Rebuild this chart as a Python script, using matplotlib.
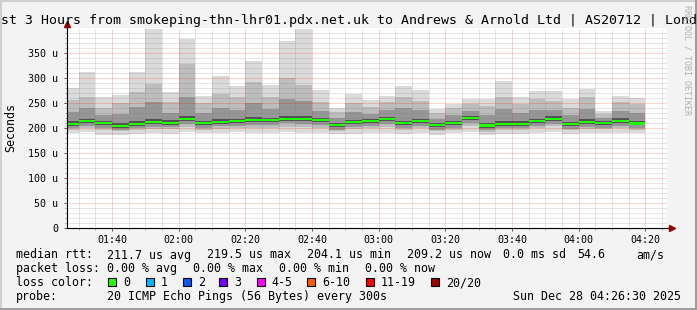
import numpy as np
import matplotlib
matplotlib.use("Agg")
import matplotlib.pyplot as plt
from matplotlib.patches import Rectangle
from matplotlib.lines import Line2D

# --- Data: one smoke column per 5 minute step (values in microseconds) ---
col_times = ["01:25", "01:30", "01:35", "01:40", "01:45", "01:50", "01:55",
             "02:00", "02:05", "02:10", "02:15", "02:20", "02:25", "02:30",
             "02:35", "02:40", "02:45", "02:50", "02:55", "03:00", "03:05",
             "03:10", "03:15", "03:20", "03:25", "03:30", "03:35", "03:40",
             "03:45", "03:50", "03:55", "04:00", "04:05", "04:10", "04:15"]
median = [208.5, 213.5, 209.5, 204.1, 208.5, 211.5, 210.5, 217.5, 209.5, 212.5,
          213.5, 215.5, 215.5, 218.5, 218.5, 215.5, 205.5, 211.5, 213.5, 217.5,
          209.5, 213.5, 205.5, 209.5, 219.5, 205.0, 208.5, 208.5, 213.5, 217.5,
          207.5, 211.5, 209.5, 213.5, 209.2]
ping_min = [190, 192, 186, 187, 188, 190, 189, 192, 190, 190, 192, 190, 191, 192,
            191, 190, 188, 189, 190, 191, 189, 190, 187, 190, 192, 186, 189, 189,
            191, 193, 189, 190, 190, 191, 190]
ping_p10 = [197, 200, 196, 194, 197, 199, 198, 203, 197, 199, 200, 201, 201, 203,
            203, 200, 195, 198, 200, 203, 197, 200, 194, 197, 204, 193, 197, 196,
            200, 205, 196, 199, 198, 200, 197]
ping_p25 = [200, 205, 201, 196, 200, 203, 202, 209, 201, 204, 205, 207, 207, 210,
            209, 207, 197, 203, 205, 209, 201, 205, 197, 201, 211, 197, 200, 200,
            205, 209, 199, 203, 201, 205, 201]
ping_p40 = [205, 210, 206, 200, 205, 208, 207, 214, 206, 209, 210, 212, 212, 215,
            214, 212, 202, 208, 210, 214, 206, 210, 202, 206, 216, 201, 205, 205,
            210, 214, 204, 208, 206, 210, 206]
ping_p60 = [214, 219, 215, 210, 215, 218, 216, 224, 215, 218, 219, 222, 221, 225,
            225, 221, 211, 217, 219, 223, 215, 219, 211, 215, 225, 211, 215, 214,
            219, 224, 213, 218, 215, 220, 215]
ping_p75 = [232, 240, 226, 228, 242, 252, 230, 262, 230, 240, 236, 250, 238, 258,
            254, 234, 220, 232, 228, 236, 240, 236, 218, 226, 234, 226, 238, 230,
            236, 236, 226, 238, 220, 234, 230]
ping_p90 = [256, 262, 240, 250, 272, 288, 252, 328, 250, 268, 262, 292, 262, 300,
            286, 252, 232, 250, 243, 252, 262, 255, 230, 240, 248, 245, 262, 248,
            258, 255, 240, 262, 228, 252, 248]
ping_max = [280, 313, 262, 267, 312, 398, 273, 378, 264, 304, 284, 335, 286, 374,
            398, 276, 241, 268, 256, 264, 284, 276, 239, 248, 259, 259, 294, 262,
            275, 275, 258, 279, 235, 264, 261]

xtick_labels = ["01:40", "02:00", "02:20", "02:40", "03:00", "03:20", "03:40", "04:00", "04:20"]
ytick_values = [0, 50, 100, 150, 200, 250, 300, 350]
ytick_labels = ["0", "50 u", "100 u", "150 u", "200 u", "250 u", "300 u", "350 u"]

title = "Last 3 Hours from smokeping-thn-lhr01.pdx.net.uk to Andrews & Arnold Ltd | AS20712 | London"
rtt_items = [("median rtt:", 16), ("211.7 us avg", 107.3), ("219.5 us max", 207.3),
             ("204.1 us min", 307.3), ("209.2 us now", 407.3), ("0.0 ms sd", 503),
             ("54.6", 577), ("am/s", 636)]
loss_items = [("packet loss:", 16), ("0.00 % avg", 107.3), ("0.00 % max", 193.3),
              ("0.00 % min", 279.3), ("0.00 % now", 365.3)]
loss_labels = ["0", "1", "2", "3", "4-5", "6-10", "11-19", "20/20"]
loss_colors = ["#26ff00", "#00b8ff", "#0059ff", "#7300ff", "#ff00ff", "#ff5a00", "#ff0000", "#a00000"]
loss_swatch_x = [108.3, 145.7, 182.7, 219.3, 256.7, 307.3, 365.7, 430.7]
probe_items = [("probe:", 16), ("20 ICMP Echo Pings (56 Bytes) every 300s", 107.3),
               ("Sun Dec 28 04:26:30 2025", 513.3)]


def to_min(s):
    h, m = s.split(":")
    return int(h) * 60 + int(m)


W, H = 697, 310
MONO = "DejaVu Sans Mono"


def fx(x):
    return x / W


def fy(y):
    return 1 - y / H


fig = plt.figure(figsize=(W / 100, H / 100), dpi=100, facecolor="#f3f3f3")
ax = fig.add_axes([fx(67), fy(228), 600 / W, 200 / H])
ax.set_facecolor("white")
ax.set_xlim(86.5, 266.5)
ax.set_ylim(0, 400)

x = np.array([to_min(t) for t in col_times])

# smoke, outer bands lightest
bands = [(ping_min, ping_max, "#dadada"),
         (ping_p10, ping_p90, "#bdbdbd"),
         (ping_p25, ping_p75, "#969696"),
         (ping_p40, ping_p60, "#525252")]
for lo, hi, c in bands:
    lo = np.array(lo, dtype=float)
    hi = np.array(hi, dtype=float)
    ax.bar(x, hi - lo, bottom=lo, width=5, align="edge", color=c, linewidth=0, zorder=1)

# median (0 % loss -> green)
ax.bar(x, 4.5, bottom=np.array(median) - 2.25, width=5, align="edge",
       color="#20ff00", linewidth=0, zorder=4)

# grid, dotted, drawn over the smoke like rrdtool does
dots = (0, (1, 1))
for m in range(90, 267, 5):
    if m % 20 == 0:
        ax.axvline(m, color=(1, 0, 0, 0.35), lw=0.72, ls=dots, zorder=3)
    else:
        ax.axvline(m, color=(0.45, 0.45, 0.45, 0.35), lw=0.72, ls=dots, zorder=3)
for v in range(10, 400, 10):
    if v % 50 == 0:
        ax.axhline(v, color=(1, 0, 0, 0.35), lw=0.72, ls=dots, zorder=3)
    else:
        ax.axhline(v, color=(0.45, 0.45, 0.45, 0.35), lw=0.72, ls=dots, zorder=3)

# axes and ticks
for s in ["top", "right"]:
    ax.spines[s].set_visible(False)
for s in ["left", "bottom"]:
    ax.spines[s].set_linewidth(0.8)
    ax.spines[s].set_color("black")
    ax.spines[s].set_zorder(5)

ax.set_xticks([to_min(t) for t in xtick_labels])
ax.set_xticklabels(xtick_labels, fontfamily=MONO, fontsize=7.2)
ax.set_xticks(list(range(90, 267, 5)), minor=True)
ax.set_yticks(ytick_values)
ax.set_yticklabels(ytick_labels, fontfamily=MONO, fontsize=7.2)
ax.set_yticks(list(range(0, 400, 10)), minor=True)
ax.tick_params(which="major", length=2.5, width=0.7, color="#555555", pad=2.5)
ax.tick_params(which="minor", length=1.5, width=0.7, color="#999999")
ax.tick_params(axis="y", which="major", pad=4)

# arrowheads
ax.plot([1.0, 1.008], [0, 0], color="black", lw=0.8, transform=ax.transAxes, clip_on=False)
ax.plot([1.008], [0], marker=">", ms=5, color="#8b0000", mec="#8b0000",
        transform=ax.transAxes, clip_on=False, zorder=6)
ax.plot([0, 0], [1.0, 1.02], color="black", lw=0.8, transform=ax.transAxes, clip_on=False)
ax.plot([0], [1.02], marker="^", ms=5, color="#8b0000", mec="#8b0000",
        transform=ax.transAxes, clip_on=False, zorder=6)

# title, axis label, watermark
fig.text(0.5 + 0.5 / W, fy(24), title, ha="center", va="baseline",
         fontfamily=MONO, fontsize=9.5, color="black")
fig.text(fx(11), fy(127), "Seconds", rotation=90, ha="center", va="center",
         fontfamily=MONO, fontsize=8.4)
fig.text(fx(687), fy(60), "RRDTOOL / TOBI OETIKER", rotation=270, ha="center",
         va="center", fontfamily=MONO, fontsize=6, color="#b0b0b0")

# legend block
for txt, xp in rtt_items:
    fig.text(fx(xp), fy(258.5), txt, ha="left", va="baseline", fontfamily=MONO, fontsize=8.4)
for txt, xp in loss_items:
    fig.text(fx(xp), fy(272.2), txt, ha="left", va="baseline", fontfamily=MONO, fontsize=8.4)
fig.text(fx(16), fy(286), "loss color:", ha="left", va="baseline", fontfamily=MONO, fontsize=8.4)
for lab, col, xp in zip(loss_labels, loss_colors, loss_swatch_x):
    fig.add_artist(Rectangle((fx(xp), fy(286.3)), 8 / W, 8 / H, transform=fig.transFigure,
                             facecolor=col, edgecolor="black", linewidth=0.8))
    fig.text(fx(xp + 15), fy(286), lab, ha="left", va="baseline", fontfamily=MONO, fontsize=8.4)
for txt, xp in probe_items:
    fig.text(fx(xp), fy(299.8), txt, ha="left", va="baseline", fontfamily=MONO, fontsize=8.4)

# frame shading
fig.add_artist(Line2D([0, 1], [fy(1), fy(1)], transform=fig.transFigure, color="#d0d0d0", lw=1.5))
fig.add_artist(Line2D([fx(1), fx(1)], [0, 1], transform=fig.transFigure, color="#d0d0d0", lw=1.5))
fig.add_artist(Line2D([0, 1], [fy(308.5), fy(308.5)], transform=fig.transFigure, color="#9e9e9e", lw=2.2))
fig.add_artist(Line2D([fx(695.5), fx(695.5)], [0, 1], transform=fig.transFigure, color="#9e9e9e", lw=2.2))

fig.savefig("out.png", dpi=100, facecolor=fig.get_facecolor())
